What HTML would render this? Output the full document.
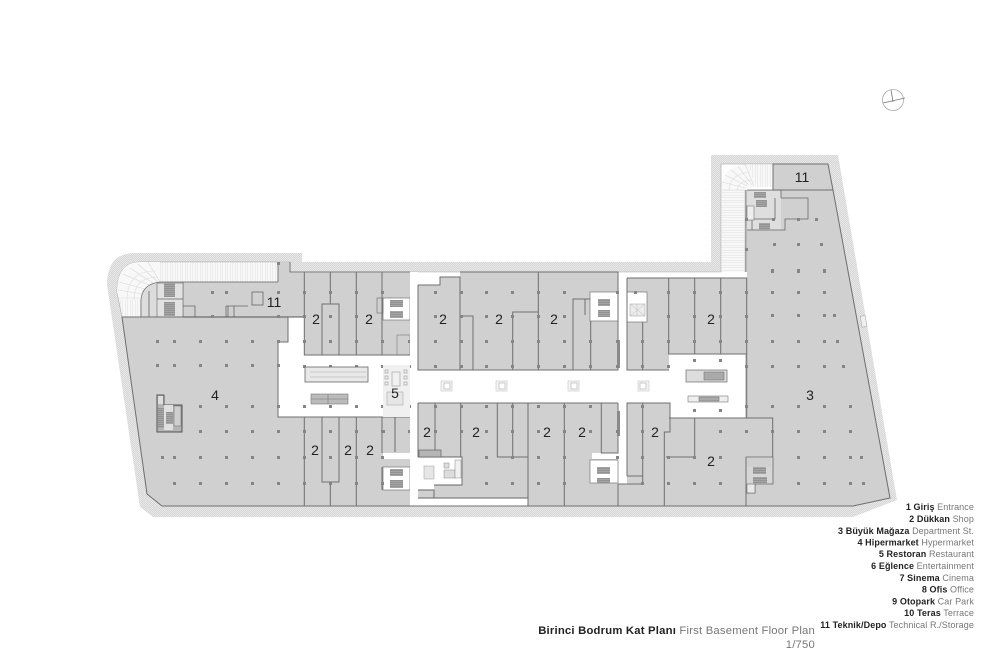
<!DOCTYPE html>
<html><head><meta charset="utf-8"><style>
html,body{margin:0;padding:0;background:#fff;width:1000px;height:672px;overflow:hidden}
svg{display:block;font-family:"Liberation Sans",sans-serif}
.d{filter:blur(.35px)}
.n{font-size:14px;fill:#222;text-anchor:middle}
.l{font-size:9px;fill:#777;text-anchor:end;letter-spacing:.1px}
.l tspan{fill:#222;font-weight:bold;stroke:none}
.t{font-size:11.3px;fill:#777;letter-spacing:.2px}
</style></head><body>
<svg width="1000" height="672" viewBox="0 0 1000 672" xmlns="http://www.w3.org/2000/svg">
<defs>
<pattern id="h" width="2" height="2" patternUnits="userSpaceOnUse"><rect width="2" height="2" fill="#ececec"/><path d="M0 2L2 0" stroke="#cfcfcf" stroke-width=".7"/></pattern>
<pattern id="rv" width="2.5" height="4" patternUnits="userSpaceOnUse"><rect width="2.5" height="4" fill="#f8f8f8"/><path d="M0 0V4" stroke="#d8d8d8" stroke-width=".7"/></pattern>
<pattern id="rh" width="4" height="2.5" patternUnits="userSpaceOnUse"><rect width="4" height="2.5" fill="#f8f8f8"/><path d="M0 0H4" stroke="#d8d8d8" stroke-width=".7"/></pattern>
<pattern id="st" width="2" height="2" patternUnits="userSpaceOnUse"><rect width="2" height="2" fill="#a5a5a5"/><path d="M0 0H2" stroke="#777" stroke-width=".8"/></pattern>
</defs>
<g class="d">
<!-- hatch band -->
<path d="M107 285Q107 253 135 253L302 253L302 262L711 262L711 155L838 155L897 500L853 517L153 517L140 507Z" fill="url(#h)"/>
<path d="M117 292Q117 262 140 262L290 262L290 272L721 272L721 164L828 164L833 190L890 498L853 506L162 506L147 494L122 317Z" fill="#fff" stroke="#aaa" stroke-width=".6"/>

<!-- ramps -->
<path d="M117 292Q117 262 140 262L278 262L278 282L160 282Q142 284 141 300L141 317L122 317Z" fill="url(#rv)" stroke="#aaa" stroke-width=".5"/>
<path d="M117 292Q117 262 140 262L160 262L160 282Q142 284 141 300L119 300Z" fill="#f8f8f8"/>
<path d="M119 298H141M118 290L142 294M119 282L145 289M123 274L149 285M130 268L153 283M138 264L158 282M148 262L160 282" stroke="#d8d8d8" stroke-width=".6" fill="none"/>
<path d="M127 300Q127 271 155 271M134 300Q134 277 158 277" stroke="#ddd" stroke-width=".6" fill="none"/>
<path d="M721 272V190H745V272Z" fill="url(#rh)"/>
<path d="M748 164H773V187H748Z" fill="url(#rv)"/>
<path d="M721 190Q722 166 748 164L756 187Q746 188 745 190Z" fill="#f8f8f8"/>
<path d="M721 190H745M722 182L745 188M725 175L747 186M731 170L749 185M738 166L752 185M745 164L754 186" stroke="#d8d8d8" stroke-width=".6" fill="none"/>
<path d="M729 190Q730 174 750 172M737 190Q738 181 752 180" stroke="#ddd" stroke-width=".6" fill="none"/>
<path d="M721 272V164H773M745 272V190" stroke="#bbb" stroke-width=".6" fill="none"/>

<!-- gray floors -->
<g fill="#cfd0cf">
<path d="M122 317L183 317L183 282L278 282L278 262L290 262L290 272L410 272L410 355L304 355L304 317L288 317L288 342L278 342L278 417L410 417L410 506L162 506L147 494Z"/>
<path d="M418 285L440 285L440 277L460 277L460 272L618 272L618 370L418 370Z"/>
<path d="M627 278L747 278L747 190L773 190L773 164L828 164L833 190L890 498L853 506L528 506L528 403L618 403L618 484L670 484L670 403L670 418L745 418L745 354L669 354L669 370L627 370Z"/>
<path d="M418 403L528 403L528 498L418 498Z"/>
<path d="M627 403L670 403L670 484L627 484Z"/>
</g>

<!-- top-left service core -->
<path d="M141 317L141 300Q142 284 160 282L183 282L183 317Z" fill="#dcdcdc" stroke="#777" stroke-width=".8"/>
<rect x="157" y="283" width="26" height="34" fill="#e2e2e2" stroke="#777" stroke-width=".7"/>
<rect x="164" y="283" width="11" height="14" fill="url(#st)"/><rect x="164" y="302" width="11" height="14" fill="url(#st)"/>
<path d="M157 299H183M149 291V317M183 306H195V317M226 306V317M226 306H248M234 306V317M228 306V317" stroke="#666" fill="none" stroke-width=".8"/>
<rect x="252" y="292" width="11" height="13" fill="none" stroke="#666" stroke-width=".8"/>
<path d="M183 317H304" stroke="#555" stroke-width="1"/>
<path d="M278 282H183M278 262V282M290 262V272H410" stroke="#666" fill="none" stroke-width=".8"/>

<!-- hypermarket core -->
<path d="M157 395H164V405H182V432H157Z" fill="#b4b4b4" stroke="#555"/>
<rect x="164" y="405" width="9" height="25" fill="#dfdfdf"/>
<rect x="158" y="408" width="6" height="20" fill="url(#st)"/>
<rect x="166" y="412" width="7" height="12" fill="url(#st)"/>
<rect x="174" y="406" width="7" height="20" fill="#cfcfcf" stroke="#777" stroke-width=".6"/>
<rect x="158" y="396" width="5" height="8" fill="#dedede"/>

<!-- shop-row core whites -->
<g fill="#fff" stroke="#777" stroke-width=".7">
<rect x="383" y="298" width="27" height="22"/>
<rect x="590" y="292" width="28" height="29"/>
<rect x="627" y="292" width="20" height="30"/>
<rect x="383" y="453" width="27" height="6" stroke="none"/>
<rect x="383" y="467" width="27" height="23"/>
<rect x="592" y="453" width="26" height="6" stroke="none"/>
<rect x="590" y="460" width="28" height="23"/>
</g>
<rect x="397" y="335" width="13" height="20" fill="none" stroke="#888" stroke-width=".7"/>
<rect x="377" y="298" width="6" height="15" fill="none" stroke="#777" stroke-width=".7"/>
<path d="M395 417V452" stroke="#6a6a6a" fill="none"/>
<rect x="410" y="272" width="8" height="86" fill="#fff"/>
<rect x="410" y="403" width="8" height="103" fill="#fff"/>
<rect x="410" y="498" width="118" height="8" fill="#fff"/>
<path d="M410 457H462V485H434V490H410Z" fill="#fff"/>
<path d="M418 457H462V485H434M418 490H434V498M418 498H528M528 498V506" stroke="#666" stroke-width=".9" fill="none"/>
<rect x="424" y="466" width="10" height="13" fill="#e6e6e6" stroke="#999" stroke-width=".5"/>
<rect x="444" y="463" width="5" height="5" fill="#ddd" stroke="#888" stroke-width=".5"/>
<rect x="444" y="470" width="11" height="8" fill="#ddd" stroke="#888" stroke-width=".5"/>
<rect x="455" y="460" width="6" height="18" fill="#f0f0f0" stroke="#888" stroke-width=".5"/>
<rect x="419" y="450" width="22" height="7" fill="#b5b5b5" stroke="#555" stroke-width=".6"/>

<!-- right cores -->
<rect x="747" y="191" width="34" height="39" fill="#dedede"/>
<path d="M781 198H808V219H785V230H747M747 190H833M781 190V198M775 198V219H752V230" stroke="#666" stroke-width=".8" fill="none"/>
<rect x="747" y="206" width="7" height="14" fill="#eee" stroke="#777" stroke-width=".6"/>
<path d="M746 457H773V484H755V493H746Z" fill="#d6d6d6" stroke="#666" stroke-width=".8"/>
<rect x="747" y="458" width="24" height="9" fill="#cfd0cf"/>
<rect x="747" y="484" width="8" height="9" fill="#e9e9e9" stroke="#666" stroke-width=".6"/>
<rect x="861" y="316" width="5" height="11" transform="rotate(-10 863 321)" fill="#f0f0f0" stroke="#aaa" stroke-width=".6"/>

<!-- stairs -->
<g fill="url(#st)">
<rect x="390" y="300" width="13" height="7"/><rect x="390" y="311" width="13" height="7"/>
<rect x="598" y="299" width="12" height="7"/><rect x="598" y="310" width="12" height="7"/>
<rect x="390" y="469" width="13" height="7"/><rect x="390" y="480" width="13" height="8"/>
<rect x="597" y="467" width="13" height="7"/><rect x="597" y="478" width="13" height="5"/>
<rect x="754" y="192" width="12" height="6"/><rect x="756" y="200" width="11" height="7"/><rect x="759" y="223" width="11" height="7"/>
<rect x="753" y="467" width="13" height="7"/><rect x="753" y="477" width="14" height="7"/>
</g>
<rect x="630" y="304" width="15" height="12" fill="#ececec" stroke="#aaa" stroke-width=".6"/>
<path d="M630 304L645 316M645 304L630 316M637 304V316" stroke="#bbb" stroke-width=".5"/>

<!-- walls -->
<g stroke="#6f6f6f" stroke-width="1" fill="none">
<path d="M304.3 272V355H410M330.3 272V304M356.3 272V355M382 272V355M322 355V304H339V355"/>
<path d="M304.3 417V506M330.3 482V506M356.3 417V506M382 417V453M322 417V482H339V417M304 417H410M162 506H410M382 467V490"/>
<path d="M288 317V342H278V417H304"/>
<path d="M418 285H440V277H460V370M418 285V370H618V272H460M460 316H473V370M512.7 370V312H538.3M538.3 272V370M573 370V299H590M585 299V315M590.7 321V370"/>
<path d="M627 278V370H669M627 278H747M642.7 322V370M668.7 278V354H747M694.7 278V354M720.7 278V354"/>
<path d="M418 403H618M418 403V457M435 403V450M460.7 403V457M497.3 403V457H528M512.7 403V457M528 403V506M564.3 403V506M601.3 403V453H618V403"/>
<path d="M618 484V506M664.3 506V432H670V403H627V476M642.7 403V484H618M627 476H642.7M669 418H772.7V457M694.7 418V457H666"/>
<path d="M746.7 278V354M746.7 354V418M746 457V506M746 190V272M162 506H853L890 498L833 190H773V164H828L833 190"/>
<path d="M122 317H183M122 317L147 494L162 506"/>
</g>
<rect x="617" y="340" width="3" height="28" fill="#8a8a8a"/>
<rect x="617" y="411" width="3" height="25" fill="#8a8a8a"/>

<!-- columns -->
<path fill="#858585" d="M156 340h3v3h-3zM173 340h3v3h-3zM199 340h3v3h-3zM225 340h3v3h-3zM251 340h3v3h-3zM277 340h3v3h-3zM156 364h3v3h-3zM173 364h3v3h-3zM199 364h3v3h-3zM225 364h3v3h-3zM251 364h3v3h-3zM277 364h3v3h-3zM199 405h3v3h-3zM225 405h3v3h-3zM251 405h3v3h-3zM277 405h3v3h-3zM199 430h3v3h-3zM225 430h3v3h-3zM251 430h3v3h-3zM277 430h3v3h-3zM161 456h3v3h-3zM173 456h3v3h-3zM199 456h3v3h-3zM225 456h3v3h-3zM251 456h3v3h-3zM277 456h3v3h-3zM173 482h3v3h-3zM199 482h3v3h-3zM225 482h3v3h-3zM251 482h3v3h-3zM277 482h3v3h-3z
M211 291h3v3h-3zM225 291h3v3h-3zM277 291h3v3h-3zM211 315h3v3h-3zM277 315h3v3h-3zM277 262h3v3h-3z
M303 291h3v3h-3zM329 291h3v3h-3zM355 291h3v3h-3zM381 291h3v3h-3zM303 315h3v3h-3zM329 315h3v3h-3zM355 315h3v3h-3zM303 340h3v3h-3zM329 340h3v3h-3zM355 340h3v3h-3zM381 340h3v3h-3zM408 340h2v3h-2zM303 365h3v3h-3zM329 365h3v3h-3zM355 365h3v3h-3zM381 365h4v3h-4zM408 365h3v3h-3zM303 405h3v3h-3zM329 405h3v3h-3zM355 405h3v3h-3zM381 405h4v3h-4zM408 405h3v3h-3z
M303 430h3v3h-3zM329 430h3v3h-3zM355 430h3v3h-3zM381 430h4v3h-4zM408 430h2v3h-2zM303 456h3v3h-3zM329 456h3v3h-3zM355 456h3v3h-3zM381 456h3v3h-3zM303 482h3v3h-3zM329 482h3v3h-3zM355 482h3v3h-3zM381 482h3v3h-3z
M434 291h3v3h-3zM460 291h3v3h-3zM485 291h3v3h-3zM511 291h3v3h-3zM537 291h3v3h-3zM563 291h3v3h-3zM616 291h3v3h-3zM634 291h3v3h-3zM667 291h3v3h-3zM693 291h3v3h-3zM719 291h3v3h-3zM745 291h3v3h-3z
M434 315h3v3h-3zM460 315h3v3h-3zM485 315h3v3h-3zM511 315h3v3h-3zM537 315h3v3h-3zM563 315h3v3h-3zM667 315h3v3h-3zM693 315h3v3h-3zM719 315h3v3h-3zM745 315h3v3h-3z
M434 340h3v3h-3zM460 340h3v3h-3zM485 340h3v3h-3zM511 340h3v3h-3zM537 340h3v3h-3zM563 340h3v3h-3zM589 340h3v3h-3zM616 340h3v3h-3zM641 340h3v3h-3zM667 340h3v3h-3zM693 340h3v3h-3zM719 340h3v3h-3zM745 340h3v3h-3z
M434 365h3v3h-3zM460 365h3v3h-3zM485 365h3v3h-3zM511 365h3v3h-3zM537 365h3v3h-3zM563 365h3v3h-3zM589 365h3v3h-3zM616 365h3v3h-3zM641 365h3v3h-3zM667 365h3v3h-3zM693 359h3v3h-3zM719 359h3v3h-3zM745 365h3v3h-3z
M693 409h3v3h-3zM719 409h3v3h-3zM745 405h3v3h-3zM434 405h3v3h-3zM460 405h3v3h-3zM485 405h3v3h-3zM511 405h3v3h-3zM537 405h3v3h-3zM563 405h3v3h-3zM589 405h3v3h-3zM641 405h3v3h-3z
M434 430h3v3h-3zM460 430h3v3h-3zM485 430h3v3h-3zM511 430h3v3h-3zM537 430h3v3h-3zM563 430h3v3h-3zM589 430h3v3h-3zM616 430h3v3h-3zM641 430h3v3h-3zM719 430h3v3h-3zM745 430h3v3h-3zM771 430h3v3h-3z
M485 456h3v3h-3zM511 456h3v3h-3zM537 456h3v3h-3zM563 456h3v3h-3zM616 456h3v3h-3zM641 456h3v3h-3zM667 456h3v3h-3zM693 456h3v3h-3zM719 456h3v3h-3z
M485 482h3v3h-3zM511 482h3v3h-3zM537 482h3v3h-3zM563 482h3v3h-3zM641 482h3v3h-3zM667 482h3v3h-3zM693 482h3v3h-3zM719 482h3v3h-3z
M745 218h3v3h-3zM772 218h3v3h-3zM797 218h3v3h-3zM815 218h3v3h-3zM773 243h3v3h-3zM797 243h3v3h-3zM820 243h3v3h-3zM745 248h3v3h-3z
M771 269h3v4h-3zM797 269h3v4h-3zM823 269h3v4h-3zM771 291h3v3h-3zM797 291h3v3h-3zM823 291h3v3h-3zM771 314h3v3h-3zM797 314h3v3h-3zM823 314h3v3h-3zM833 314h3v3h-3zM771 340h3v3h-3zM797 340h3v3h-3zM823 340h3v3h-3zM836 340h3v3h-3zM771 365h3v3h-3zM797 365h3v3h-3zM823 365h3v3h-3zM842 365h3v3h-3z
M771 405h3v3h-3zM797 405h3v3h-3zM823 405h3v3h-3zM849 405h3v3h-3zM797 430h3v3h-3zM823 430h3v3h-3zM849 430h3v3h-3zM797 456h3v3h-3zM823 456h3v3h-3zM849 456h3v3h-3zM860 456h3v3h-3zM797 482h3v3h-3zM823 482h3v3h-3zM849 482h3v3h-3zM862 482h3v3h-3z"/>

<!-- mall features -->
<g stroke="#777" stroke-width=".6">
<rect x="305" y="367" width="63" height="15" fill="#e8e8e8" stroke="#666" stroke-width=".8"/>
<path d="M310 372H366M310 377H366" stroke="#aaa"/>
<rect x="311" y="394" width="37" height="10" fill="#bbb"/>
<path d="M311 399H348M328 394V404"/>
<rect x="383" y="365" width="27" height="52" fill="#f0f0f0" stroke="none"/>
<g fill="none" stroke="#999">
<rect x="385" y="370" width="3" height="3"/><rect x="385" y="376" width="3" height="3"/><rect x="385" y="382" width="3" height="3"/>
<rect x="404" y="370" width="3" height="3"/><rect x="404" y="376" width="3" height="3"/><rect x="404" y="382" width="3" height="3"/>
<rect x="392" y="372" width="8" height="14"/>
</g>
<rect x="387" y="392" width="16" height="13" fill="#e6e6e6" stroke="#aaa"/>
<g fill="#f4f4f4" stroke="#c4c4c4"><rect x="441" y="381" width="11" height="10"/><rect x="496" y="381" width="11" height="10"/><rect x="568" y="381" width="11" height="10"/><rect x="638" y="381" width="11" height="10"/></g>
<g fill="#fff" stroke="#aaa"><rect x="444" y="383" width="6" height="6"/><rect x="499" y="383" width="6" height="6"/><rect x="571" y="383" width="6" height="6"/><rect x="640" y="383" width="6" height="6"/></g>
<rect x="686" y="370" width="41" height="12" fill="#ddd" stroke="#555"/>
<rect x="704" y="372" width="20" height="8" fill="#aaa"/>
<rect x="688" y="396" width="40" height="6" fill="#eee"/>
<rect x="699" y="397" width="20" height="4" fill="#aaa"/>
</g>

<!-- compass -->
<circle cx="893" cy="100" r="10.5" fill="none" stroke="#aaa" stroke-width=".8"/>
<path d="M891 90L893 102M883 103L905 98" stroke="#777" stroke-width=".8" fill="none"/>
</g>

<!-- text -->
<text class="n" x="316" y="324">2</text><text class="n" x="369" y="324">2</text>
<text class="n" x="315" y="455">2</text><text class="n" x="348" y="455">2</text><text class="n" x="370" y="455">2</text>
<text class="n" x="215" y="400">4</text><text class="n" x="395" y="398">5</text><text class="n" x="274" y="307">11</text>
<text class="n" x="443" y="324">2</text><text class="n" x="499" y="324">2</text><text class="n" x="554" y="324">2</text><text class="n" x="711" y="324">2</text>
<text class="n" x="427" y="437">2</text><text class="n" x="476" y="437">2</text><text class="n" x="547" y="437">2</text><text class="n" x="582" y="437">2</text><text class="n" x="655" y="437">2</text><text class="n" x="711" y="466">2</text>
<text class="n" x="810" y="400">3</text><text class="n" x="802" y="182">11</text>

<g>
<text class="l" x="974" y="510"><tspan>1 Giriş</tspan> Entrance</text>
<text class="l" x="974" y="522"><tspan>2 Dükkan</tspan> Shop</text>
<text class="l" x="974" y="534"><tspan>3 Büyük Mağaza</tspan> Department St.</text>
<text class="l" x="974" y="545.5"><tspan>4 Hipermarket</tspan> Hypermarket</text>
<text class="l" x="974" y="557"><tspan>5 Restoran</tspan> Restaurant</text>
<text class="l" x="974" y="569"><tspan>6 Eğlence</tspan> Entertainment</text>
<text class="l" x="974" y="581"><tspan>7 Sinema</tspan> Cinema</text>
<text class="l" x="974" y="592.5"><tspan>8 Ofis</tspan> Office</text>
<text class="l" x="974" y="604.5"><tspan>9 Otopark</tspan> Car Park</text>
<text class="l" x="974" y="616"><tspan>10 Teras</tspan> Terrace</text>
<text class="l" x="974" y="628"><tspan>11 Teknik/Depo</tspan> Technical R./Storage</text>
</g>
<text class="t" x="815" y="634" text-anchor="end"><tspan fill="#222" font-weight="bold">Birinci Bodrum Kat Planı</tspan> First Basement Floor Plan</text>
<text class="t" x="815" y="648" text-anchor="end">1/750</text>
</svg>
</body></html>
